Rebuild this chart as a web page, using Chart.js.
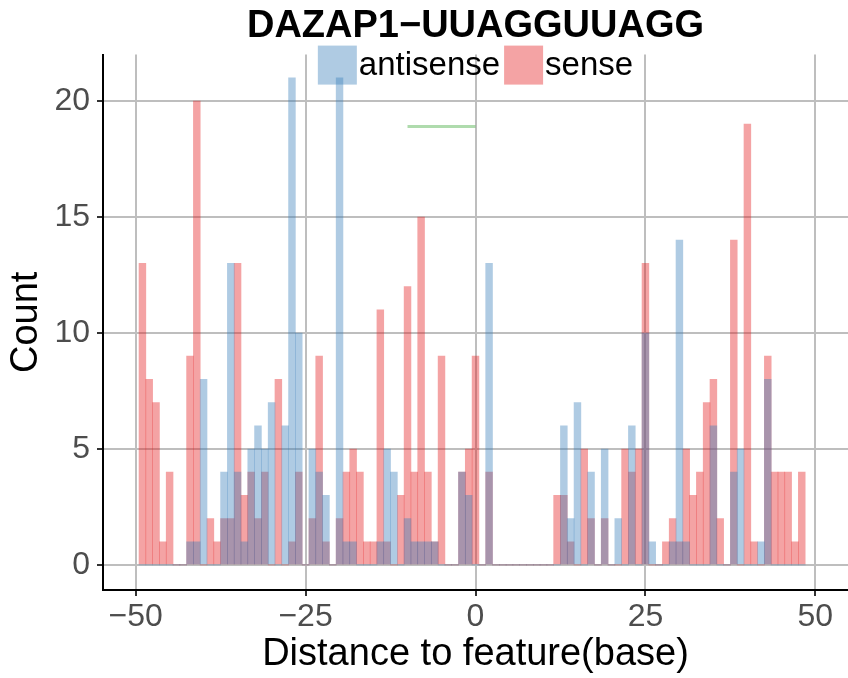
<!DOCTYPE html>
<html>
<head>
<meta charset="utf-8">
<script src="https://cdn.jsdelivr.net/npm/chart.js@4.4.1/dist/chart.umd.min.js"></script>
<style>
  html, body { margin: 0; padding: 0; background: #fff; }
  canvas { display: block; }
</style>
</head>
<body>
<canvas id="chart" width="848" height="678"></canvas>
<script>
// one histogram bin per base, first bin is -49
const binStart = -49

const antisenseCounts = [
  0, 0, 0, 0, 0, 0, 0, 1, 1, 8,      // -49 .. -40
  0, 0, 4, 13, 4, 1, 5, 6, 5, 7,     // -39 .. -30
  0, 6, 21, 10, 0, 5, 4, 3, 0, 21,   // -29 .. -20
  1, 1, 0, 0, 0, 1, 5, 4, 0, 2,      // -19 .. -10
  1, 1, 1, 1, 0, 0, 0, 4, 3, 0,      // -9 .. 0
  0, 13, 0, 0, 0, 0, 0, 0, 0, 0,     // 1 .. 10
  0, 0, 6, 2, 7, 0, 4, 0, 5, 0,      // 11 .. 20
  2, 0, 6, 0, 10, 1, 0, 0, 1, 14,    // 21 .. 30
  1, 0, 0, 0, 6, 0, 0, 4, 5, 0,      // 31 .. 40
  0, 1, 8, 0, 0, 0, 0, 0             // 41 .. 48
]

const senseCounts = [
  13, 8, 7, 1, 4, 0, 0, 9, 20, 0,    // -49 .. -40
  2, 1, 2, 2, 13, 3, 4, 2, 4, 0,     // -39 .. -30
  8, 0, 1, 4, 0, 2, 9, 1, 0, 2,      // -29 .. -20
  4, 5, 4, 1, 1, 11, 1, 0, 3, 12,    // -19 .. -10
  4, 15, 4, 1, 9, 0, 0, 4, 5, 9,     // -9 .. 0
  0, 4, 0, 0, 0, 0, 0, 0, 0, 0,      // 1 .. 10
  0, 3, 3, 1, 0, 5, 2, 0, 2, 0,      // 11 .. 20
  0, 5, 4, 5, 13, 0, 0, 1, 2, 1,     // 21 .. 30
  5, 3, 4, 7, 8, 2, 0, 14, 0, 19,    // 31 .. 40
  1, 0, 9, 4, 4, 4, 1, 4             // 41 .. 48
]

const xTicks = [-50, -25, 0, 25, 50]
const yTicks = [0, 5, 10, 15, 20]

// motif segment (green line)
const motifX = [-10, 0]
const motifY = 18.9

const FONT = '"Liberation Sans", Arial, Helvetica, sans-serif'

const toPoints = counts => counts.map((c, i) => ({x: binStart + i, y: c}))
const minus = v => String(v).replace('-', '\u2212')

// legend sits inside the top of the panel, like ggplot's
const topLegend = {
  id: 'topLegend',
  afterDraw(chart) {
    const {ctx, chartArea} = chart
    const box = 39
    const items = chart.data.datasets.filter(d => d.type !== 'line')
    ctx.save()
    ctx.font = '33px ' + FONT
    let total = 0
    items.forEach(d => { total += box + 2 + ctx.measureText(d.label).width + 4 })
    total -= 4
    let x = (chartArea.left + chartArea.right) / 2 - total / 2
    const top = chartArea.top - 9
    items.forEach(d => {
      ctx.fillStyle = d.backgroundColor
      ctx.fillRect(x, top, box, box)
      x += box + 2
      ctx.fillStyle = '#000'
      ctx.textBaseline = 'middle'
      ctx.textAlign = 'left'
      ctx.fillText(d.label, x, top + box / 2 + 1)
      x += ctx.measureText(d.label).width + 4
    })
    ctx.restore()
  }
}

new Chart(document.getElementById('chart'), {
  type: 'bar',
  data: {
    datasets: [
      {
        label: 'antisense',
        data: toPoints(antisenseCounts),
        backgroundColor: 'rgba(55,126,184,0.4)',
        borderWidth: 0
      },
      {
        label: 'sense',
        data: toPoints(senseCounts),
        backgroundColor: 'rgba(228,26,28,0.4)',
        borderWidth: 0
      },
      {
        type: 'line',
        label: 'motif',
        data: motifX.map(x => ({x: x, y: motifY})),
        borderColor: 'rgba(77,175,74,0.45)',
        borderWidth: 3,
        pointRadius: 0,
        fill: false
      }
    ]
  },
  options: {
    responsive: false,
    animation: false,
    devicePixelRatio: 1,
    grouped: false,
    barPercentage: 1,
    categoryPercentage: 1,
    layout: {padding: 0},
    plugins: {
      legend: {display: false},
      tooltip: {enabled: false},
      title: {
        display: true,
        fullSize: false,
        text: 'DAZAP1\u2212UUAGGUUAGG',
        color: '#000',
        font: {family: FONT, size: 38, weight: 'bold', lineHeight: 1.2},
        padding: {top: 4, bottom: 5}
      }
    },
    scales: {
      x: {
        type: 'linear',
        offset: false,
        min: -54.8,
        max: 54.8,
        afterBuildTicks: s => { s.ticks = xTicks.map(v => ({value: v})) },
        afterFit: s => { s.height = 88 },
        ticks: {
          callback: minus,
          color: '#4d4d4d',
          font: {family: FONT, size: 32},
          padding: 2,
          maxRotation: 0,
          autoSkip: false
        },
        grid: {offset: false, color: '#bebebe', lineWidth: 2, tickColor: '#333', tickLength: 6},
        border: {color: '#000', width: 2},
        title: {
          display: true,
          text: 'Distance to feature(base)',
          color: '#000',
          font: {family: FONT, size: 38, lineHeight: 1.2},
          padding: {top: 0, bottom: 1}
        }
      },
      y: {
        min: -1.08,
        max: 22,
        afterBuildTicks: s => { s.ticks = yTicks.map(v => ({value: v})) },
        afterFit: s => { s.width = 103 },
        ticks: {
          color: '#4d4d4d',
          font: {family: FONT, size: 32},
          padding: 7
        },
        grid: {color: '#bebebe', lineWidth: 2, tickColor: '#333', tickLength: 6},
        border: {color: '#000', width: 2},
        title: {
          display: true,
          text: 'Count',
          color: '#000',
          font: {family: FONT, size: 38, lineHeight: 1.2},
          padding: {top: 4, bottom: 0}
        }
      }
    }
  },
  plugins: [topLegend]
})
</script>
</body>
</html>
